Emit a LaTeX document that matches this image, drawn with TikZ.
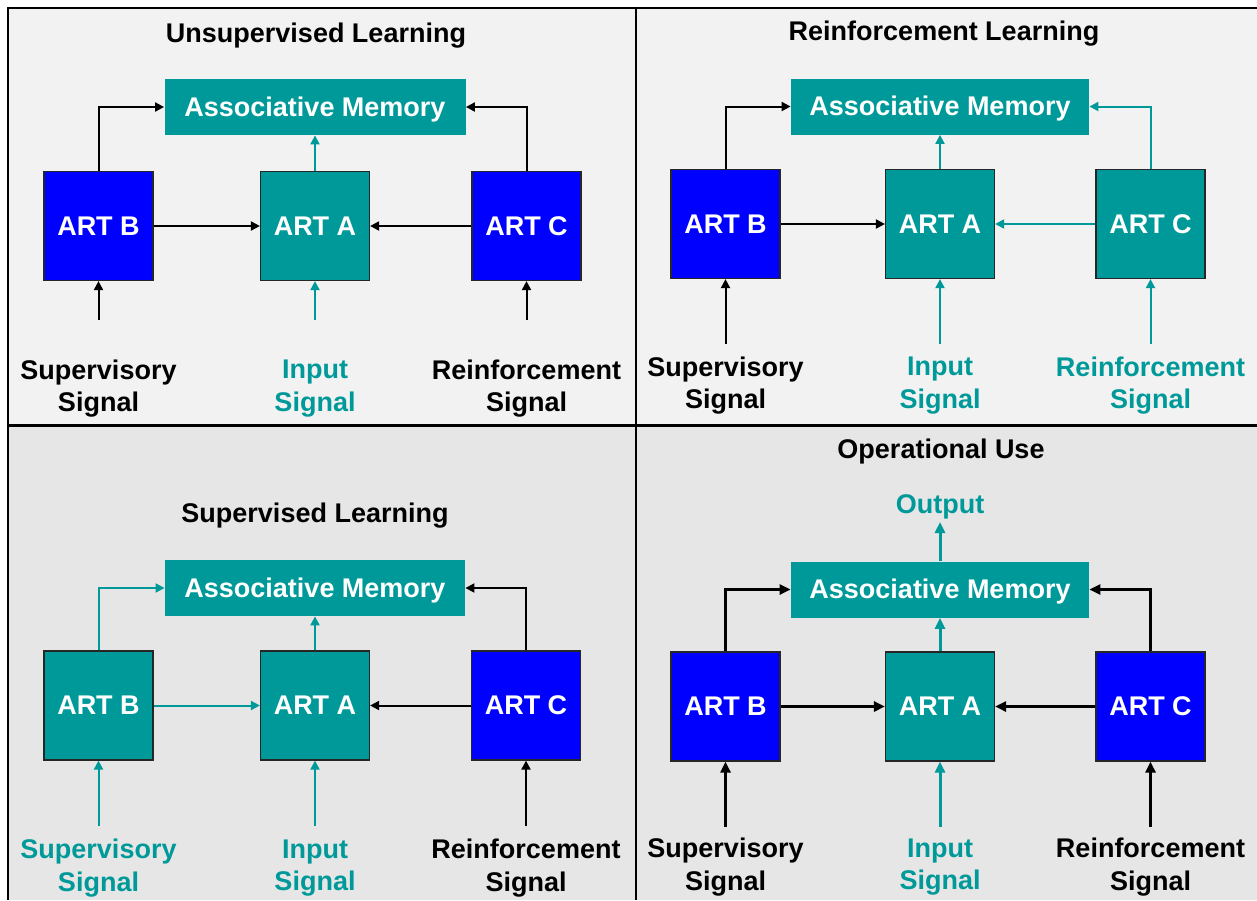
\documentclass[tikz,border=0pt]{standalone}
\usepackage{fontspec}
\setmainfont{Liberation Sans}
\usetikzlibrary{arrows.meta}
\definecolor{tealc}{RGB}{0,153,153}
\definecolor{bluec}{RGB}{0,0,255}
\definecolor{bgtop}{RGB}{242,242,242}
\definecolor{bgbot}{RGB}{230,230,230}
\begin{document}
\begin{tikzpicture}[x=0.5pt,y=-0.5pt,
  txt/.style={font=\bfseries\fontsize{13.5pt}{16.25pt}\selectfont},
  title/.style={txt, text=black},
  boxtxt/.style={txt, text height=0.9em, text depth=0pt, inner sep=0pt},
  mem/.style={boxtxt, fill=tealc, text=white, minimum width=150.5pt, minimum height=28pt},
  artbox/.style={boxtxt, draw=black!85, line width=0.6pt, text=white, minimum width=54.5pt, minimum height=54.5pt},
  lab/.style={txt, align=center},
  link/.style={line width=1pt, -{Triangle[length=4.5pt,width=4.5pt]}},
  boldlink/.style={line width=1.5pt, -{Triangle[length=5.5pt,width=5pt]}}]
\useasboundingbox (0,0) rectangle (1257,900);
% panel backgrounds and frame
\fill[white] (0,0) rectangle (1257,900);
\fill[bgtop] (8,8) rectangle (1257,425.5);
\fill[bgbot] (8,425.5) rectangle (1257,900);
\draw[line width=1.1pt] (1257,8) -- (8,8) -- (8,900);
\draw[line width=1.1pt] (8,425.5) -- (1257,425.5);
\draw[line width=1.1pt] (636,8) -- (636,900);

% ---------- Unsupervised Learning ----------
\node[title] (t1) at (316,36) {Unsupervised Learning};
\node[mem] (m1) at (315,107) {Associative Memory};
\node[artbox, fill=bluec] (b1) at (98.5,226) {ART B};
\node[artbox, fill=tealc] (a1) at (315,226) {ART A};
\node[artbox, fill=bluec] (c1) at (526.5,226) {ART C};
\node[lab] (sl1) at (98.5,388.5) {Supervisory\\Signal};
\node[lab, text=tealc] (il1) at (315,388.5) {Input\\Signal};
\node[lab] (rl1) at (526.5,388.5) {Reinforcement\\Signal};
\coordinate (sb1) at (98.5,320);
\coordinate (ia1) at (315,320);
\coordinate (rc1) at (526.5,320);
\draw[link] (b1.north) |- (m1.west);
\draw[link, tealc] (a1.north) -- (m1.south);
\draw[link] (c1.north) |- (m1.east);
\draw[link] (b1.east) -- (a1.west);
\draw[link] (c1.west) -- (a1.east);
\draw[link] (sb1) -- (b1.south);
\draw[link, tealc] (ia1) -- (a1.south);
\draw[link] (rc1) -- (c1.south);

% ---------- Reinforcement Learning ----------
\node[title] (t2) at (944,34) {Reinforcement Learning};
\node[mem, minimum width=149pt] (m2) at (940,106.5) {Associative Memory};
\node[artbox, fill=bluec] (b2) at (725.5,224) {ART B};
\node[artbox, fill=tealc] (a2) at (940,224) {ART A};
\node[artbox, fill=tealc] (c2) at (1150.5,224) {ART C};
\node[lab] (sl2) at (725.5,385.5) {Supervisory\\Signal};
\node[lab, text=tealc] (il2) at (940,385.5) {Input\\Signal};
\node[lab, text=tealc] (rl2) at (1150.5,385.5) {Reinforcement\\Signal};
\coordinate (sb2) at (725.5,344);
\coordinate (ia2) at (940,344);
\coordinate (rc2) at (1150.5,344);
\draw[link] (b2.north) |- (m2.west);
\draw[link, tealc] (a2.north) -- (m2.south);
\draw[link, tealc] (c2.north) |- (m2.east);
\draw[link] (b2.east) -- (a2.west);
\draw[link, tealc] (c2.west) -- (a2.east);
\draw[link] (sb2) -- (b2.south);
\draw[link, tealc] (ia2) -- (a2.south);
\draw[link, tealc] (rc2) -- (c2.south);

% ---------- Supervised Learning ----------
\node[title] (t3) at (315,516) {Supervised Learning};
\node[mem, minimum width=150pt] (m3) at (315,588) {Associative Memory};
\node[artbox, fill=tealc] (b3) at (98.5,705.5) {ART B};
\node[artbox, fill=tealc] (a3) at (315,705.5) {ART A};
\node[artbox, fill=bluec] (c3) at (526,705.5) {ART C};
\node[lab, text=tealc] (sl3) at (98.5,868) {Supervisory\\Signal};
\node[lab, text=tealc] (il3) at (315,868) {Input\\Signal};
\node[lab] (rl3) at (526,868) {Reinforcement\\Signal};
\coordinate (sb3) at (98.5,826);
\coordinate (ia3) at (315,826);
\coordinate (rc3) at (526,826);
\draw[link, tealc] (b3.north) |- (m3.west);
\draw[link, tealc] (a3.north) -- (m3.south);
\draw[link] (c3.north) |- (m3.east);
\draw[link, tealc] (b3.east) -- (a3.west);
\draw[link] (c3.west) -- (a3.east);
\draw[link, tealc] (sb3) -- (b3.south);
\draw[link, tealc] (ia3) -- (a3.south);
\draw[link] (rc3) -- (c3.south);

% ---------- Operational Use ----------
\node[title] (t4) at (941,452) {Operational Use};
\node[lab, text=tealc] (o4) at (940,507) {Output};
\node[mem, minimum width=149pt] (m4) at (940,589.5) {Associative Memory};
\node[artbox, fill=bluec] (b4) at (725.5,706.5) {ART B};
\node[artbox, fill=tealc] (a4) at (940,706.5) {ART A};
\node[artbox, fill=bluec] (c4) at (1150.5,706.5) {ART C};
\node[lab] (sl4) at (725.5,867) {Supervisory\\Signal};
\node[lab, text=tealc] (il4) at (940,867) {Input\\Signal};
\node[lab] (rl4) at (1150.5,867) {Reinforcement\\Signal};
\coordinate (ot4) at (940,522);
\coordinate (sb4) at (725.5,827);
\coordinate (ia4) at (940,827);
\coordinate (rc4) at (1150.5,827);
\draw[boldlink, tealc] (m4.north) -- (ot4);
\draw[boldlink] (b4.north) |- (m4.west);
\draw[boldlink, tealc] (a4.north) -- (m4.south);
\draw[boldlink] (c4.north) |- (m4.east);
\draw[boldlink] (b4.east) -- (a4.west);
\draw[boldlink] (c4.west) -- (a4.east);
\draw[boldlink] (sb4) -- (b4.south);
\draw[boldlink, tealc] (ia4) -- (a4.south);
\draw[boldlink] (rc4) -- (c4.south);
\end{tikzpicture}
\end{document}
